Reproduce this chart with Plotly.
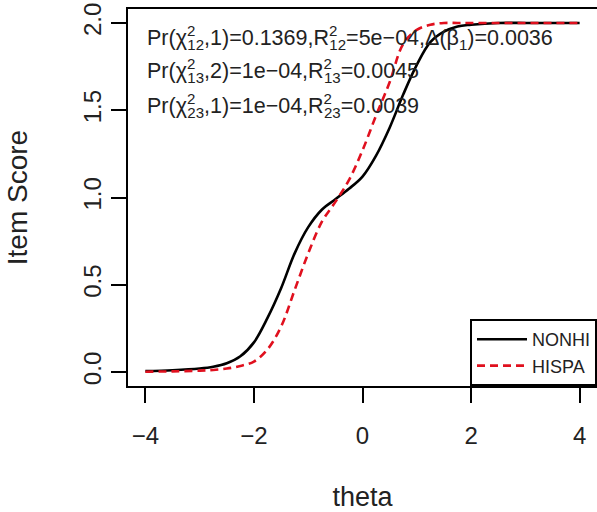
import plotly.graph_objects as go

theta = [-4.0, -3.5, -3.0, -2.75, -2.5, -2.25, -2.0, -1.75, -1.5, -1.25, -1.0,
         -0.75, -0.5, -0.25, 0.0, 0.25, 0.5, 0.75, 1.0, 1.25, 1.5, 1.75, 2.0,
         2.5, 3.0, 3.5, 4.0]
nonhi = [0.005, 0.01, 0.02, 0.03, 0.05, 0.09, 0.17, 0.31, 0.48, 0.68, 0.83,
         0.93, 0.99, 1.05, 1.12, 1.24, 1.40, 1.59, 1.76, 1.89, 1.95, 1.98, 1.99,
         2.0, 2.0, 2.0, 2.0]
hispa = [0.002, 0.004, 0.008, 0.012, 0.02, 0.035, 0.06, 0.13, 0.26, 0.47, 0.68,
         0.86, 0.975, 1.10, 1.27, 1.47, 1.66, 1.88, 1.96, 1.99, 2.0, 2.0, 2.0,
         2.0, 2.0, 2.0, 2.0]

x_ticks = [-4, -2, 0, 2, 4]
x_ticklabels = ["\u22124", "\u22122", "0", "2", "4"]
y_ticks = [0.0, 0.5, 1.0, 1.5, 2.0]
y_ticklabels = ["0.0", "0.5", "1.0", "1.5", "2.0"]

series_names = ["NONHI", "HISPA"]

SUP = '<sup style="letter-spacing:-8px">2</sup>'
stat_lines = [
    "Pr(\u03c7" + SUP + "<sub>12</sub>,1)=0.1369,R" + SUP + "<sub>12</sub>=5e\u221204,\u0394(\u03b2<sub>1</sub>)=0.0036",
    "Pr(\u03c7" + SUP + "<sub>13</sub>,2)=1e\u221204,R" + SUP + "<sub>13</sub>=0.0045",
    "Pr(\u03c7" + SUP + "<sub>23</sub>,1)=1e\u221204,R" + SUP + "<sub>23</sub>=0.0039",
]
stat_y = [1.915, 1.725, 1.53]

FONT = "Liberation Sans, Arial, Helvetica, sans-serif"

fig = go.Figure()
fig.add_trace(go.Scatter(x=theta, y=nonhi, mode="lines", name=series_names[0],
                         line=dict(color="black", width=2.6, shape="spline", smoothing=1)))
fig.add_trace(go.Scatter(x=theta, y=hispa, mode="lines", name=series_names[1],
                         line=dict(color="#e0101e", width=2.6, dash="8px,5px",
                                   shape="spline", smoothing=1)))

for txt, yv in zip(stat_lines, stat_y):
    fig.add_annotation(x=-4, y=yv, xref="x", yref="y", text=txt, showarrow=False,
                       xanchor="left", yanchor="middle",
                       font=dict(family=FONT, size=21.5, color="#222"))

fig.update_layout(
    width=597, height=512,
    margin=dict(l=128, r=0, t=9, b=126),
    paper_bgcolor="white", plot_bgcolor="white",
    font=dict(family=FONT, color="#222"),
    showlegend=True,
    legend=dict(x=1, y=0, xanchor="right", yanchor="bottom",
                bordercolor="black", borderwidth=2, bgcolor="white",
                itemwidth=50,
                font=dict(size=18, family=FONT, color="#222")),
    xaxis=dict(range=[-4.32, 4.32], tickvals=x_ticks, ticktext=x_ticklabels,
               ticks="outside", ticklen=15, tickwidth=2, tickcolor="black",
               showline=True, linecolor="black", linewidth=2, mirror=True,
               showgrid=False, zeroline=False, tickfont=dict(size=24),
               ticklabelstandoff=12,
               title=dict(text="theta", font=dict(size=27), standoff=39),
               automargin=False),
    yaxis=dict(range=[-0.08, 2.08], tickvals=y_ticks, ticktext=y_ticklabels,
               ticks="outside", ticklen=15, tickwidth=2, tickcolor="black",
               showline=True, linecolor="black", linewidth=2, mirror=False,
               showgrid=False, zeroline=False, tickfont=dict(size=24),
               tickangle=-90,
               title=dict(text="Item Score", font=dict(size=28), standoff=44),
               automargin=False),
)

fig.write_html("out.html", config={"displayModeBar": False},
               post_script="document.body.style.margin='0';document.body.style.overflow='hidden';")
